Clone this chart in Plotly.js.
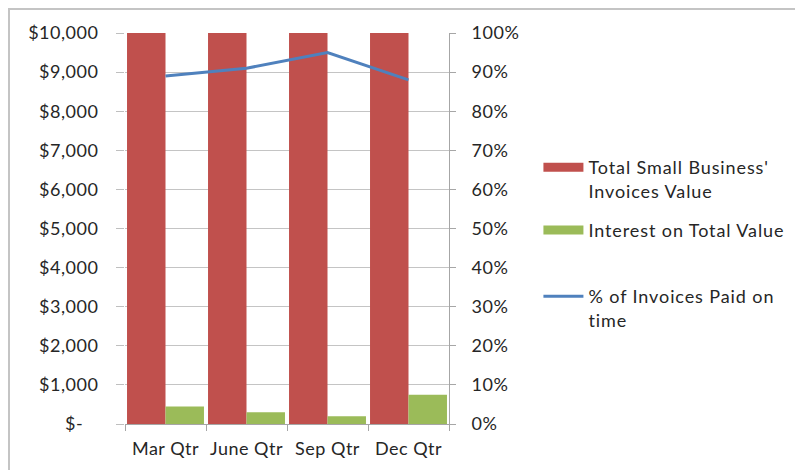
<!DOCTYPE html>
<html>
<head>
<meta charset="utf-8">
<script src="https://cdn.plot.ly/plotly-3.0.1.min.js"></script>
<style>
html,body{margin:0;padding:0;background:#fff;}
#chart{width:795px;height:470px;}
#chart g[class^="legend"] text{letter-spacing:0.9px;}
#chart .xtick text,#chart .ytick text,#chart .y2tick text{letter-spacing:0.5px;}
</style>
</head>
<body>
<div id="chart"></div>
<script>
var quarters = ["Mar Qtr", "June Qtr", "Sep Qtr", "Dec Qtr"];
var invoiceTotals = [10000, 10000, 10000, 10000];
var interestValues = [450, 300, 200, 750];
var paidOnTime = [0.89, 0.91, 0.95, 0.88];
var leftTickVals = [0, 1000, 2000, 3000, 4000, 5000, 6000, 7000, 8000, 9000, 10000];
var leftTickText = ["$-\u00a0\u00a0\u00a0", "$1,000", "$2,000", "$3,000", "$4,000", "$5,000", "$6,000", "$7,000", "$8,000", "$9,000", "$10,000"];
var seriesNames = ["Total Small Business'<br>Invoices Value", "Interest on Total Value", "% of Invoices Paid on<br>time"];

var RED = "#C0504D", GREEN = "#9BBB59", BLUE = "#4F81BD";
var FONT = "Lato, 'Open Sans', sans-serif";
var TXT = "#262626";

var traces = [
  {type: "bar", x: quarters, y: invoiceTotals, marker: {color: RED}, showlegend: false, name: seriesNames[0]},
  {type: "bar", x: quarters, y: interestValues, marker: {color: GREEN}, showlegend: false, name: seriesNames[1]},
  {type: "scatter", mode: "lines", x: quarters, y: paidOnTime, yaxis: "y2", line: {color: BLUE, width: 3}, showlegend: false, name: seriesNames[2]},
  {type: "scatter", mode: "lines", x: [null], y: [null], line: {color: RED, width: 9}, name: seriesNames[0], legend: "legend"},
  {type: "scatter", mode: "lines", x: [null], y: [null], line: {color: GREEN, width: 9}, name: seriesNames[1], legend: "legend2"},
  {type: "scatter", mode: "lines", x: [null], y: [null], yaxis: "y2", line: {color: BLUE, width: 3}, name: seriesNames[2], legend: "legend3"}
];

var legendCommon = {
  xanchor: "left", yanchor: "top", valign: "top",
  font: {family: FONT, size: 18, color: TXT},
  bgcolor: "rgba(0,0,0,0)", borderwidth: 0, itemwidth: 40,
  itemclick: false, itemdoubleclick: false
};
function lg(x, y) { return Object.assign({}, legendCommon, {x: x, y: y}); }

var layout = {
  width: 795, height: 470,
  margin: {l: 125, r: 346, t: 33, b: 46, pad: 0},
  paper_bgcolor: "#fff", plot_bgcolor: "#fff",
  font: {family: FONT, size: 18, color: TXT},
  barmode: "group", bargap: 0.05, bargroupgap: 0,
  xaxis: {
    type: "category", tickson: "boundaries", ticks: "outside", ticklen: 6, tickcolor: "#a6a6a6",
    showline: true, linecolor: "#a6a6a6", showgrid: false, ticklabelstandoff: 8,
    tickfont: {family: FONT, size: 18, color: TXT}
  },
  yaxis: {
    range: [0, 10000], tickvals: leftTickVals, ticktext: leftTickText,
    ticks: "outside", ticklen: 8, tickcolor: "#bfbfbf", showline: false,
    showgrid: true, gridcolor: "#c4c4c4", gridwidth: 1, zeroline: false,
    ticklabelstandoff: 14, tickfont: {family: FONT, size: 18, color: TXT}, fixedrange: true
  },
  yaxis2: {
    overlaying: "y", side: "right", range: [0, 1], dtick: 0.1, tickformat: ".0%",
    ticks: "outside", ticklen: 6, tickcolor: "#a6a6a6", showline: true, linecolor: "#a6a6a6",
    showgrid: false, zeroline: false, ticklabelstandoff: 12,
    tickfont: {family: FONT, size: 18, color: TXT}, fixedrange: true
  },
  legend: lg(1.276, 0.703),
  legend2: lg(1.276, 0.543),
  legend3: lg(1.276, 0.373),
  shapes: [{
    type: "rect", xref: "paper", yref: "paper", layer: "below",
    x0: (9 - 125) / 324, x1: (820 - 125) / 324, y0: (424 - 490) / 391, y1: (424 - 9) / 391,
    line: {color: "#c4c4c4", width: 2}, fillcolor: "rgba(0,0,0,0)"
  }]
};

Plotly.newPlot("chart", traces, layout, {displayModeBar: false, staticPlot: true}).then(function () {
  document.querySelectorAll('#chart g[class^="legend"] [clip-path], #chart g[class^="legend"][clip-path]').forEach(function (el) {
    el.removeAttribute("clip-path");
  });
});
</script>
</body>
</html>
